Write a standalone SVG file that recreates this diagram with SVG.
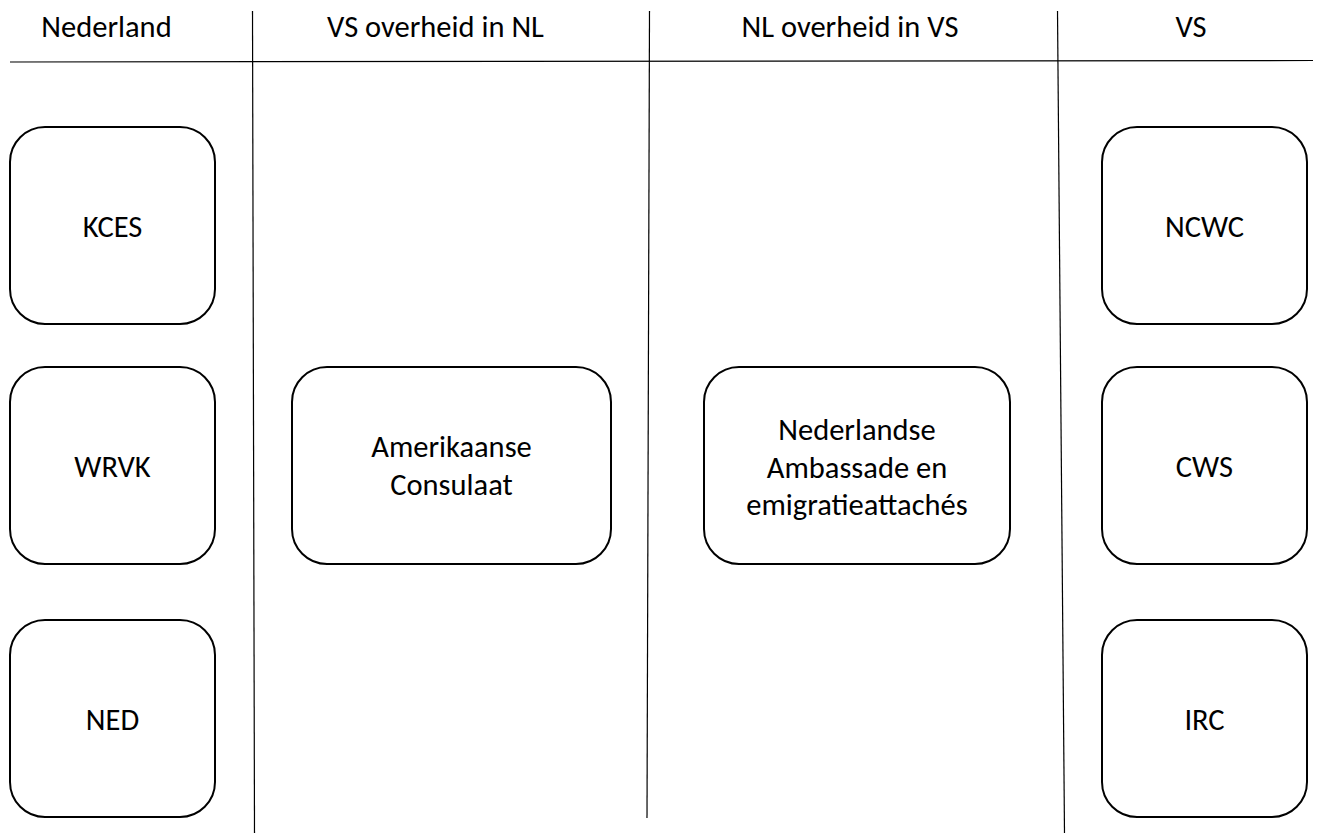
<svg xmlns="http://www.w3.org/2000/svg" width="1317" height="835" viewBox="0 0 1317 835">
<style>
text{font-family:Carlito,Lato,"Liberation Sans",sans-serif;font-size:30.5px;fill:#000;text-anchor:middle}
.box{fill:#fff;stroke:#000;stroke-width:2}
.sep{stroke:#000;stroke-width:1.2;fill:none}
</style>
<rect width="1317" height="835" fill="#fff"/>
<g id="lanes">
<line class="sep" x1="10" y1="62" x2="1313" y2="60.5"/>
<line class="sep" x1="252.5" y1="11" x2="254.5" y2="833"/>
<line class="sep" x1="649.5" y1="11" x2="647" y2="818"/>
<line class="sep" x1="1057.5" y1="11" x2="1064.5" y2="833"/>
<text x="106.5" y="37">Nederland</text>
<text x="435.5" y="37">VS overheid in NL</text>
<text x="850" y="37">NL overheid in VS</text>
<text x="1191" y="37">VS</text>
</g>
<g id="connectors"></g>
<g id="KCES"><rect class="box" x="10" y="127" width="205" height="197" rx="35"/><text x="112.5" y="237">KCES</text></g>
<g id="WRVK"><rect class="box" x="10" y="367" width="205" height="197" rx="35"/><text x="112.5" y="477">WRVK</text></g>
<g id="NED"><rect class="box" x="10" y="620" width="205" height="197" rx="35"/><text x="112.5" y="730">NED</text></g>
<g id="Consulaat"><rect class="box" x="292" y="367" width="319" height="197" rx="35"/><text x="451.5" y="457">Amerikaanse</text><text x="451.5" y="495">Consulaat</text></g>
<g id="Ambassade"><rect class="box" x="704" y="367" width="306" height="197" rx="35"/><text x="857" y="440">Nederlandse</text><text x="857" y="477.5">Ambassade en</text><text x="857" y="515">emigratieattachés</text></g>
<g id="NCWC"><rect class="box" x="1102" y="127" width="205" height="197" rx="35"/><text x="1204.5" y="237">NCWC</text></g>
<g id="CWS"><rect class="box" x="1102" y="367" width="205" height="197" rx="35"/><text x="1204.5" y="477">CWS</text></g>
<g id="IRC"><rect class="box" x="1102" y="620" width="205" height="197" rx="35"/><text x="1204.5" y="730">IRC</text></g>
</svg>
